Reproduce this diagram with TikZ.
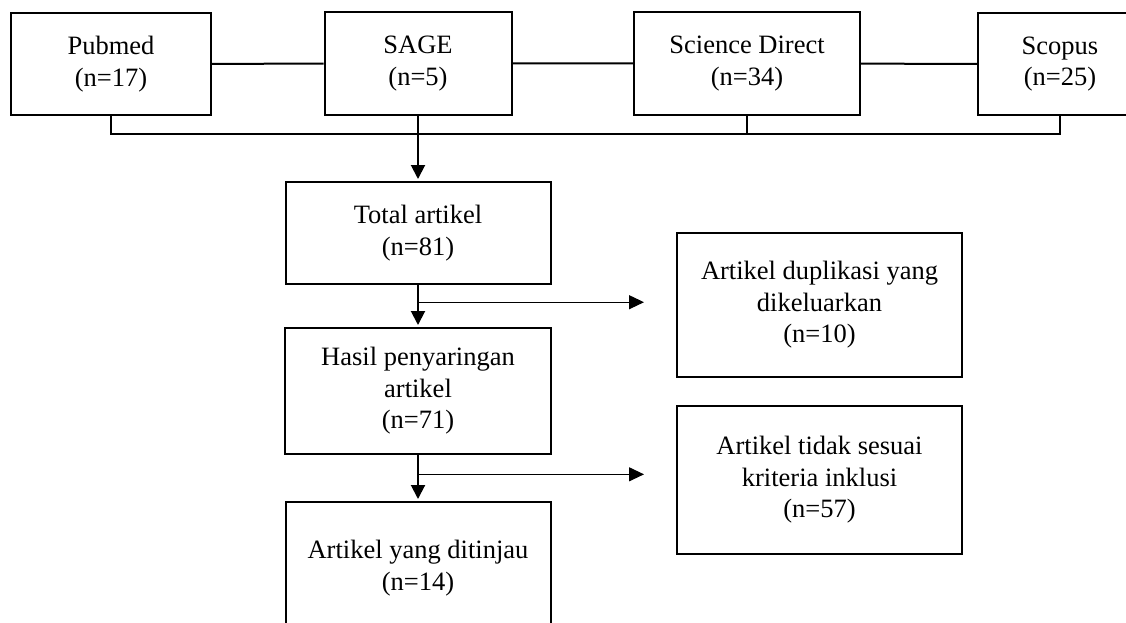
\documentclass[tikz,border=0pt]{standalone}
\usepackage{fontspec}
\setmainfont{Liberation Serif}
\usetikzlibrary{arrows.meta, calc}

\begin{document}
\begin{tikzpicture}[x=1pt, y=-1pt,
        flowbox/.style={rectangle, draw, line width=2pt, inner sep=0pt, align=center,
            font=\fontsize{26.5}{31.5}\selectfont},
        link/.style={line width=2pt},
        mainarrow/.style={line width=2pt, -{Triangle[width=14pt, length=14pt]}, shorten >=2pt},
        sidearrow/.style={line width=1.2pt, -{Triangle[width=14pt, length=15pt]}, shorten >=32pt}]
        \clip (0, 0) rectangle (1126, 623);

        \node[flowbox, minimum width=200pt, minimum height=102pt] (pubmed) at (111, 64) {Pubmed\\(n=17)};
        \node[flowbox, minimum width=187pt, minimum height=103pt] (sage) at (418, 63.5) {SAGE\\(n=5)};
        \node[flowbox, minimum width=226pt, minimum height=103pt] (scidir) at (747, 63.5) {Science Direct\\(n=34)};
        \node[flowbox, minimum width=164pt, minimum height=102pt] (scopus) at (1060, 64) {Scopus\\(n=25)};
        \node[flowbox, minimum width=265pt, minimum height=102pt] (total) at (418, 233) {Total artikel\\(n=81)};
        \node[flowbox, minimum width=266pt, minimum height=126pt] (hasil) at (418, 391) {Hasil penyaringan\\artikel\\(n=71)};
        \node[flowbox, minimum width=265pt, minimum height=132pt] (review) at (418, 568) {Artikel yang ditinjau\\(n=14)};
        \node[flowbox, minimum width=285pt, minimum height=144pt] (dup) at (819.5, 305) {Artikel duplikasi yang\\dikeluarkan\\(n=10)};
        \node[flowbox, minimum width=285pt, minimum height=148pt] (excl) at (819.5, 480) {Artikel tidak sesuai\\kriteria inklusi\\(n=57)};

        \coordinate (bus) at (0, 134);
        \draw[link] (pubmed) -- (sage)
            (sage) -- (scidir)
            (scidir) -- (scopus);
        \draw[link] (pubmed.south) |- (scopus.south |- bus) -- (scopus.south)
            (scidir.south) -- (scidir.south |- bus);

        \draw[mainarrow] (sage) -- (total);
        \draw[mainarrow] (total) -- (hasil);
        \draw[mainarrow] (hasil) -- (review);

        \coordinate (split1) at ($(total.south)!0.41!(hasil.north)$);
        \coordinate (split2) at ($(hasil.south)!0.42!(review.north)$);
        \draw[sidearrow] (split1) -- (split1 -| dup.west);
        \draw[sidearrow] (split2) -- (split2 -| excl.west);
\end{tikzpicture}
\end{document}
